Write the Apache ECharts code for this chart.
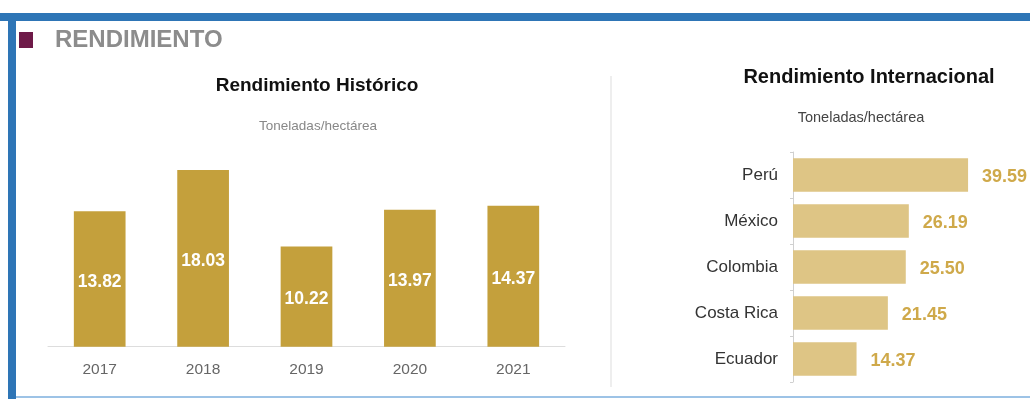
<!DOCTYPE html>
<html>
<head>
<meta charset="utf-8">
<script src="https://cdn.jsdelivr.net/npm/echarts@6/dist/echarts.min.js"></script>
<style>
  html, body { margin: 0; padding: 0; background: #fff; }
  #chart { width: 1030px; height: 399px; }
</style>
</head>
<body>
<div id="chart"></div>
<script>
const years = ['2017', '2018', '2019', '2020', '2021'];
const yieldByYear = [13.82, 18.03, 10.22, 13.97, 14.37];
const countries = ['Perú', 'México', 'Colombia', 'Costa Rica', 'Ecuador'];
const yieldByCountry = [39.59, 26.19, 25.50, 21.45, 14.37];

const chart = echarts.init(document.getElementById('chart'));
const font = '"Liberation Sans", Arial, sans-serif';

chart.setOption({
  backgroundColor: '#fff',
  animation: false,
  textStyle: { fontFamily: font },
  graphic: [
    // marco azul
    { type: 'rect', shape: { x: 0, y: 13, width: 1030, height: 8 }, style: { fill: '#2e75b6' } },
    { type: 'rect', shape: { x: 8, y: 13, width: 8, height: 386 }, style: { fill: '#2e75b6' } },
    { type: 'rect', shape: { x: 16, y: 396, width: 1014, height: 2 }, style: { fill: '#9dc3e6' } },
    // encabezado
    { type: 'rect', shape: { x: 19, y: 32, width: 14, height: 16 }, style: { fill: '#6e1a48' } },
    { type: 'text', x: 55, y: 40, style: { text: 'RENDIMIENTO', font: 'bold 24px ' + font, fill: '#8c8c8c', textVerticalAlign: 'middle' } },
    // títulos
    { type: 'text', x: 317, y: 86, style: { text: 'Rendimiento Histórico', font: 'bold 19px ' + font, fill: '#111', textAlign: 'center', textVerticalAlign: 'middle' } },
    { type: 'text', x: 318, y: 126, style: { text: 'Toneladas/hectárea', font: '13.5px ' + font, fill: '#888', textAlign: 'center', textVerticalAlign: 'middle' } },
    { type: 'text', x: 869, y: 77, style: { text: 'Rendimiento Internacional', font: 'bold 20px ' + font, fill: '#111', textAlign: 'center', textVerticalAlign: 'middle' } },
    { type: 'text', x: 861, y: 118, style: { text: 'Toneladas/hectárea', font: '14.5px ' + font, fill: '#444', textAlign: 'center', textVerticalAlign: 'middle' } },
    // separador
    { type: 'line', shape: { x1: 611, y1: 76, x2: 611, y2: 387 }, style: { stroke: '#e8e8e8', lineWidth: 1.5 } }
  ],
  grid: [
    { left: 48, right: 465, top: 150.7, bottom: 52.3 },
    { left: 793, right: 38, top: 152, bottom: 17 }
  ],
  xAxis: [
    {
      gridIndex: 0,
      type: 'category',
      data: years,
      axisLine: { lineStyle: { color: '#dddddd' } },
      axisTick: { show: false },
      axisLabel: { color: '#666', fontSize: 15.5, margin: 15 }
    },
    { gridIndex: 1, type: 'value', min: 0, max: 45, show: false }
  ],
  yAxis: [
    { gridIndex: 0, type: 'value', min: 0, max: 20, show: false },
    {
      gridIndex: 1,
      type: 'category',
      data: countries,
      inverse: true,
      axisLine: { lineStyle: { color: '#d0d0d0' } },
      axisTick: { show: true, length: 3, lineStyle: { color: '#d0d0d0' } },
      axisLabel: { color: '#333', fontSize: 17, margin: 15, padding: [3, 0, 0, 0] }
    }
  ],
  series: [
    {
      type: 'bar',
      xAxisIndex: 0,
      yAxisIndex: 0,
      data: yieldByYear,
      barCategoryGap: '50%',
      itemStyle: { color: '#c4a03c' },
      label: {
        show: true,
        position: 'inside',
        offset: [0, 3],
        color: '#fff',
        fontSize: 17.5,
        fontWeight: 'bold',
        formatter: (p) => p.value.toFixed(2)
      }
    },
    {
      type: 'bar',
      xAxisIndex: 1,
      yAxisIndex: 1,
      data: yieldByCountry,
      barCategoryGap: '27%',
      itemStyle: { color: '#dec585' },
      label: {
        show: true,
        position: 'right',
        distance: 14,
        offset: [0, 2],
        color: '#cfa94a',
        fontSize: 18,
        fontWeight: 'bold',
        formatter: (p) => p.value.toFixed(2)
      }
    }
  ]
});
</script>
</body>
</html>
